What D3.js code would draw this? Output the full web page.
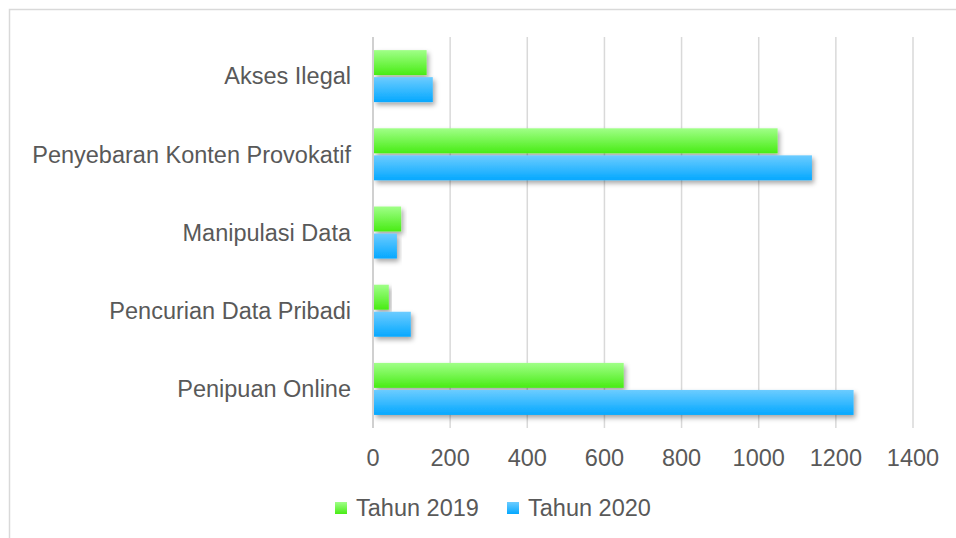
<!DOCTYPE html>
<html>
<head>
<meta charset="utf-8">
<script src="https://cdn.jsdelivr.net/npm/d3@7"></script>
<style>
  body { margin: 0; background: #fff; }
  text { font-family: "Liberation Sans", Arial, sans-serif; fill: #595959; }
</style>
</head>
<body>
<div id="chart"></div>
<script>
// Data
const categories = ["Akses Ilegal", "Penyebaran Konten Provokatif", "Manipulasi Data", "Pencurian Data Pribadi", "Penipuan Online"];
const series = ["Tahun 2019", "Tahun 2020"];
const values2019 = [139, 1049, 73, 41, 650];
const values2020 = [155, 1138, 62, 98, 1246];
const xTicks = [0, 200, 400, 600, 800, 1000, 1200, 1400];

const dataset = categories.map((c, i) => ({
    name: c,
    values: [
        { key: series[0], value: values2019[i] },
        { key: series[1], value: values2020[i] },
    ],
}));

// Dimensions
const dimensions = {
    width: 956,
    height: 538,
    left: 373,
    right: 913,
    top: 37,
    bottom: 428,
};

const svg = d3.select('#chart')
    .append('svg')
    .attr('width', dimensions.width)
    .attr('height', dimensions.height);

const defs = svg.append('defs');

const gradients = [
    { id: 'g2019', top: '#a0ff88', bottom: '#48ec14' },
    { id: 'g2020', top: '#6cccff', bottom: '#05a8ff' },
];
gradients.forEach(g => {
    const lg = defs.append('linearGradient')
        .attr('id', g.id)
        .attr('x1', 0).attr('y1', 0).attr('x2', 0).attr('y2', 1);
    lg.append('stop').attr('offset', '0%').attr('stop-color', g.top);
    lg.append('stop').attr('offset', '100%').attr('stop-color', g.bottom);
});

defs.append('filter')
    .attr('id', 'shadow')
    .attr('x', '-10%').attr('y', '-30%')
    .attr('width', '130%').attr('height', '180%')
    .append('feDropShadow')
    .attr('dx', 2).attr('dy', 3)
    .attr('stdDeviation', 2.5)
    .attr('flood-color', '#000')
    .attr('flood-opacity', 0.35);

// Frame
svg.append('path')
    .attr('d', `M9.5,${dimensions.height} V9.5 H${dimensions.width}`)
    .attr('fill', 'none')
    .attr('stroke', '#d9d9d9')
    .attr('stroke-width', 1.5);

// Scales
const xScale = d3.scaleLinear()
    .domain([0, 1400])
    .range([dimensions.left, dimensions.right]);

const yScale = d3.scaleBand()
    .domain(categories)
    .range([dimensions.top, dimensions.bottom]);

const subScale = d3.scaleBand()
    .domain(series)
    .range([0, 52])
    .paddingInner(0.077);

const colorScale = d3.scaleOrdinal()
    .domain(series)
    .range(['url(#g2019)', 'url(#g2020)']);

// Gridlines
svg.append('g')
    .selectAll('line')
    .data(xTicks)
    .join('line')
    .attr('x1', d => xScale(d))
    .attr('x2', d => xScale(d))
    .attr('y1', dimensions.top)
    .attr('y2', dimensions.bottom)
    .attr('stroke', '#d9d9d9')
    .attr('stroke-width', 1.5);

// Bars
const groups = svg.append('g')
    .selectAll('g')
    .data(dataset)
    .join('g')
    .attr('transform', d => `translate(0, ${yScale(d.name) + (yScale.bandwidth() - 52) / 2})`);

groups.selectAll('rect')
    .data(d => d.values)
    .join('rect')
    .attr('x', xScale(0) + 1)
    .attr('y', d => subScale(d.key))
    .attr('width', d => xScale(d.value) - xScale(0) - 1)
    .attr('height', subScale.bandwidth())
    .attr('fill', d => colorScale(d.key))
    .attr('filter', 'url(#shadow)');

// Left axis line
svg.append('line')
    .attr('x1', xScale(0))
    .attr('x2', xScale(0))
    .attr('y1', dimensions.top)
    .attr('y2', dimensions.bottom)
    .attr('stroke', '#d0d0d0')
    .attr('stroke-width', 2);

// Category labels
svg.append('g')
    .selectAll('text')
    .data(categories)
    .join('text')
    .attr('x', 351)
    .attr('y', d => yScale(d) + yScale.bandwidth() / 2)
    .attr('dy', '0.35em')
    .attr('text-anchor', 'end')
    .style('font-size', '23.5px')
    .text(d => d);

// Tick labels
svg.append('g')
    .selectAll('text')
    .data(xTicks)
    .join('text')
    .attr('x', d => xScale(d))
    .attr('y', 466)
    .attr('text-anchor', 'middle')
    .style('font-size', '23.5px')
    .text(d => d);

// Legend
const legend = svg.append('g')
    .selectAll('g')
    .data(series)
    .join('g')
    .attr('transform', (d, i) => `translate(${335 + i * 172}, 502)`);

legend.append('rect')
    .attr('width', 12)
    .attr('height', 12)
    .attr('fill', d => colorScale(d));

legend.append('text')
    .attr('x', 21)
    .attr('y', 6)
    .attr('dy', '0.35em')
    .style('font-size', '23.5px')
    .text(d => d);
</script>
</body>
</html>
